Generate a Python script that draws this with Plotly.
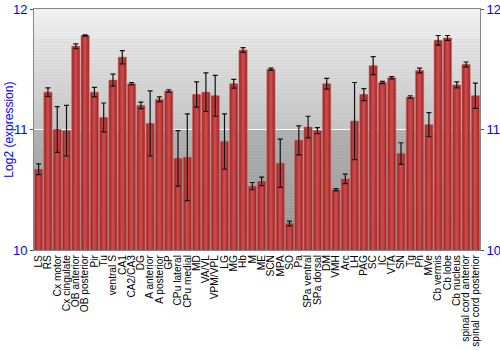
import plotly.graph_objects as go

categories = ["LS", "RS", "Cx motor", "Cx cingulate", "OB anterior", "OB posterior", "Pir", "Tu",
              "ventral S", "CA1", "CA2/CA3", "DG", "A anterior", "A posterior", "GP", "CPu lateral",
              "CPu medial", "MD", "VA/VL", "VPM/VPL", "LG", "MG", "Hb", "M", "ME", "SCN", "MPA", "SO",
              "Pa", "SPa ventral", "SPa dorsal", "DM", "VMH", "Arc", "LH", "PAG", "SC", "IC", "VTA",
              "SN", "Tg", "Pn", "MVe", "Cb vermis", "Cb lobe", "Cb nucleus", "spinal cord anterior",
              "spinal cord posterior"]
values = [10.67, 11.31, 11.00, 10.99, 11.69, 11.78, 11.31, 11.10,
          11.41, 11.60, 11.38, 11.20, 11.05, 11.25, 11.32, 10.76,
          10.77, 11.29, 11.31, 11.28, 10.90, 11.38, 11.66, 10.53, 10.57, 11.50, 10.72, 10.22,
          10.91, 11.02, 10.99, 11.38, 10.50, 10.59, 11.07, 11.29, 11.53, 11.39, 11.43,
          10.80, 11.27, 11.49, 11.04, 11.74, 11.76, 11.37, 11.54,
          11.28]
errors = [0.045, 0.035, 0.19, 0.21, 0.02, 0.005, 0.04, 0.12,
          0.05, 0.055, 0.01, 0.027, 0.27, 0.02, 0.01, 0.23,
          0.36, 0.105, 0.16, 0.17, 0.23, 0.036, 0.02, 0.03, 0.035, 0.01, 0.2, 0.02,
          0.12, 0.09, 0.025, 0.045, 0.01, 0.04, 0.32, 0.05, 0.075, 0.01, 0.01,
          0.09, 0.01, 0.02, 0.1, 0.04, 0.02, 0.025, 0.02,
          0.105]
y_ticks = [10, 11, 12]
y_range = [10, 12]

FONT = "Liberation Sans, Arial, sans-serif"
BLUE = "#0000ff"

fig = go.Figure()

# bar layers for a cylinder-like shading
fig.add_trace(go.Bar(x=categories, y=values, width=0.88,
                     marker=dict(color="#a32828", line=dict(color="#c86a6a", width=0.6)),
                     showlegend=False, hoverinfo="skip"))
fig.add_trace(go.Bar(x=categories, y=values, width=0.55,
                     marker=dict(color="#bb3a3a", line=dict(width=0)),
                     showlegend=False, hoverinfo="skip"))
fig.add_trace(go.Bar(x=categories, y=values, width=0.25,
                     marker=dict(color="#c84a4a", line=dict(width=0)),
                     error_y=dict(type="data", array=errors, color="#111111", thickness=1.2, width=2.5),
                     showlegend=False))
# invisible trace for right axis
fig.add_trace(go.Scatter(x=[categories[0]], y=[y_range[0]], yaxis="y2", mode="markers",
                         marker=dict(opacity=0), showlegend=False, hoverinfo="skip"))

# background gradient bands
n = 40
top_c, mid_c = (242, 242, 242), (196, 196, 196)
low_c, bot_c = (176, 176, 176), (148, 148, 148)
shapes = []
for i in range(n):
    t = i / n
    y0 = 0.5 + 0.5 * t
    y1 = 0.5 + 0.5 * (t + 1 / n)
    c = [int(mid_c[k] + (top_c[k] - mid_c[k]) * (t + 0.5 / n)) for k in range(3)]
    shapes.append(dict(type="rect", xref="paper", yref="paper", x0=0, x1=1, y0=y0, y1=y1,
                       fillcolor="rgb(%d,%d,%d)" % tuple(c), line=dict(width=0), layer="below"))
    y0b = 0.5 * t
    y1b = 0.5 * (t + 1 / n)
    cb = [int(bot_c[k] + (low_c[k] - bot_c[k]) * (t + 0.5 / n)) for k in range(3)]
    shapes.append(dict(type="rect", xref="paper", yref="paper", x0=0, x1=1, y0=y0b, y1=y1b,
                       fillcolor="rgb(%d,%d,%d)" % tuple(cb), line=dict(width=0), layer="below"))

fig.update_layout(
    width=500, height=350,
    margin=dict(l=34, r=20, t=9, b=100, pad=0),
    paper_bgcolor="white", plot_bgcolor="#c0c0c0",
    barmode="overlay",
    shapes=shapes,
    font=dict(family=FONT, color="black"),
    xaxis=dict(tickangle=-90, tickfont=dict(size=10.2, color="black", family=FONT),
               tickmode="linear", tick0=0, dtick=1, automargin=False,
               showline=True, linecolor="#888888", linewidth=1, mirror=True,
               ticks="", showgrid=False, range=[-0.5, len(categories) - 0.5]),
    yaxis=dict(range=y_range, tickvals=y_ticks, tickfont=dict(size=13, color=BLUE, family=FONT),
               showline=True, linecolor="#888888", linewidth=1, automargin=False,
               ticks="outside", ticklen=3, tickcolor="#555555",
               gridcolor="white", gridwidth=1.2, zeroline=False),
    yaxis2=dict(range=y_range, tickvals=y_ticks, overlaying="y", side="right",
                tickfont=dict(size=13, color=BLUE, family=FONT), automargin=False,
                showline=True, linecolor="#888888", linewidth=1,
                ticks="outside", ticklen=3, tickcolor="#555555",
                showgrid=False, zeroline=False),
    annotations=[dict(text="Log2 (expression)", xref="paper", yref="paper",
                      x=-0.058, y=0.5, xanchor="center", yanchor="middle", textangle=-90,
                      showarrow=False, font=dict(size=12, color=BLUE, family=FONT))],
)

fig.write_html("out.html")
